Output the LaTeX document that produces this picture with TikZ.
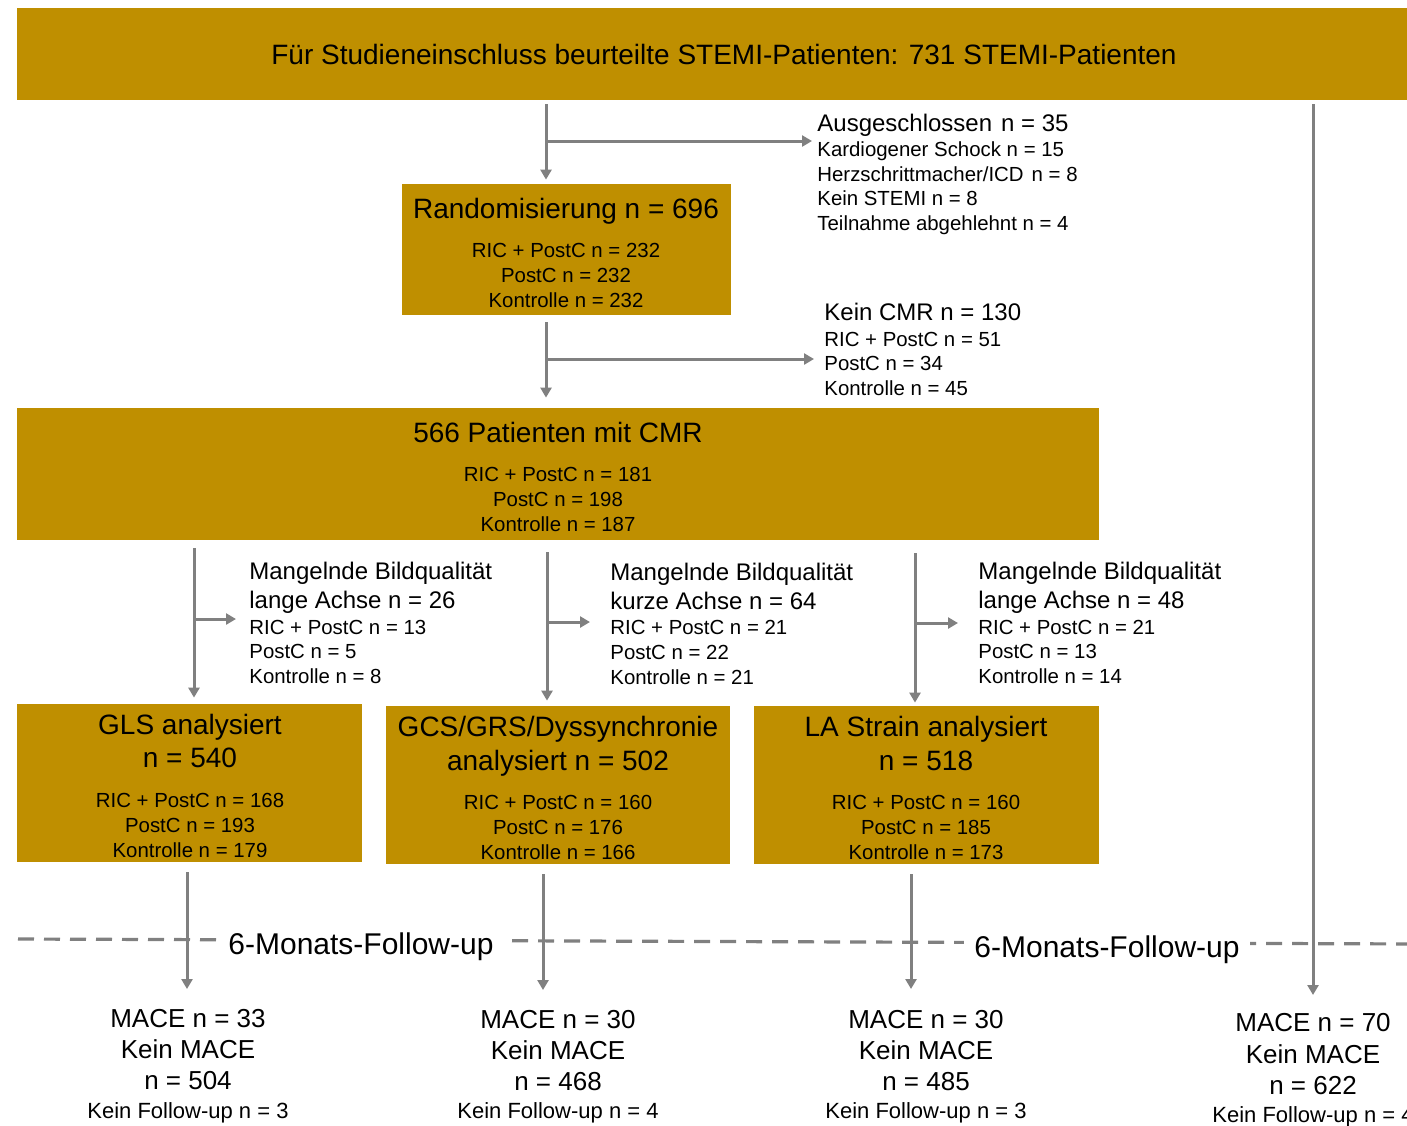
\documentclass[tikz,border=0pt]{standalone}
\usepackage{fontspec}
\setmainfont{Liberation Sans}
\usetikzlibrary{arrows.meta}
\definecolor{gold}{RGB}{191,143,0}
\definecolor{arrgray}{RGB}{128,128,128}
\begin{document}
\begin{tikzpicture}[x=0.5pt,y=-0.5pt,
  box/.style={fill=gold, draw=none, inner sep=0},
  arr/.style={draw=arrgray, line width=1.5pt, -{Triangle[length=5pt,width=5.5pt]}},
  fuline/.style={draw=arrgray, line width=1.6pt, dash pattern=on 8pt off 5pt},
  ct/.style={inner sep=0, anchor=base},
  lt/.style={inner sep=0, anchor=base west},
  big/.style={font=\fontsize{14}{16}\selectfont},
  med/.style={font=\fontsize{12}{14}\selectfont},
  sm/.style={font=\fontsize{10.2}{12}\selectfont},
  fu/.style={font=\fontsize{15}{17}\selectfont, fill=white, inner xsep=5pt, inner ysep=2pt},
  mace/.style={font=\fontsize{13}{15}\selectfont},
  kf/.style={font=\fontsize{11}{13}\selectfont}]
\useasboundingbox (0,0) rectangle (1407,1125);
\clip (0,0) rectangle (1407,1125);

% boxes
\node[box, minimum width=706.5pt, minimum height=46pt] (top) at (723.5,54) {};
\node[box, minimum width=164.5pt, minimum height=65.5pt] (rand) at (566.5,249.5) {};
\node[box, minimum width=541pt, minimum height=66pt] (cmr) at (558,474) {};
\node[box, minimum width=172.5pt, minimum height=79pt] (gls) at (189.5,783) {};
\node[box, minimum width=172pt, minimum height=79pt] (gcs) at (558,785) {};
\node[box, minimum width=172.5pt, minimum height=79pt] (la) at (926.5,785) {};

% box texts
\node[ct, big] (ttl) at (724,64) {Für Studieneinschluss beurteilte STEMI-Patienten: 731 STEMI-Patienten};

\node[ct, big] (r1) at (566,218) {Randomisierung n = 696};
\node[ct, sm] (r2) at (566,257) {RIC + PostC n = 232};
\node[ct, sm] (r3) at (566,282) {PostC n = 232};
\node[ct, sm] (r4) at (566,307) {Kontrolle n = 232};

\node[ct, big] (c1) at (558,442) {566 Patienten mit CMR};
\node[ct, sm] (c2) at (558,481) {RIC + PostC n = 181};
\node[ct, sm] (c3) at (558,506) {PostC n = 198};
\node[ct, sm] (c4) at (558,531) {Kontrolle n = 187};

\node[ct, big] (g1) at (190,734) {GLS analysiert};
\node[ct, big] (g2) at (190,767) {n = 540};
\node[ct, sm] (g3) at (190,807) {RIC + PostC n = 168};
\node[ct, sm] (g4) at (190,832) {PostC n = 193};
\node[ct, sm] (g5) at (190,857) {Kontrolle n = 179};

\node[ct, big] (s1) at (558,736) {GCS/GRS/Dyssynchronie};
\node[ct, big] (s2) at (558,770) {analysiert n = 502};
\node[ct, sm] (s3) at (558,809) {RIC + PostC n = 160};
\node[ct, sm] (s4) at (558,834) {PostC n = 176};
\node[ct, sm] (s5) at (558,859) {Kontrolle n = 166};

\node[ct, big] (l1) at (926,736) {LA Strain analysiert};
\node[ct, big] (l2) at (926,770) {n = 518};
\node[ct, sm] (l3) at (926,809) {RIC + PostC n = 160};
\node[ct, sm] (l4) at (926,834) {PostC n = 185};
\node[ct, sm] (l5) at (926,859) {Kontrolle n = 173};

% exclusion texts
\node[lt, med] (ex1) at (817,131) {Ausgeschlossen\hspace{4.5pt}n = 35};
\node[lt, sm] (ex1b) at (817,156) {Kardiogener Schock n = 15};
\node[lt, sm] (ex1c) at (817,181) {Herzschrittmacher/ICD\hspace{4pt}n = 8};
\node[lt, sm] (ex1d) at (817,205) {Kein STEMI n = 8};
\node[lt, sm] (ex1e) at (817,230) {Teilnahme abgehlehnt n = 4};

\node[lt, med] (ex2) at (824,320) {Kein CMR n = 130};
\node[lt, sm] (ex2b) at (824,346) {RIC + PostC n = 51};
\node[lt, sm] (ex2c) at (824,370) {PostC n = 34};
\node[lt, sm] (ex2d) at (824,395) {Kontrolle n = 45};

\node[lt, med] (ex3) at (249,579) {Mangelnde Bildqualität};
\node[lt, med] (ex3b) at (249,608) {lange Achse n = 26};
\node[lt, sm] (ex3c) at (249,634) {RIC + PostC n = 13};
\node[lt, sm] (ex3d) at (249,658) {PostC n = 5};
\node[lt, sm] (ex3e) at (249,683) {Kontrolle n = 8};

\node[lt, med] (ex4) at (610,580) {Mangelnde Bildqualität};
\node[lt, med] (ex4b) at (610,609) {kurze Achse n = 64};
\node[lt, sm] (ex4c) at (610,634) {RIC + PostC n = 21};
\node[lt, sm] (ex4d) at (610,659) {PostC n = 22};
\node[lt, sm] (ex4e) at (610,684) {Kontrolle n = 21};

\node[lt, med] (ex5) at (978,579) {Mangelnde Bildqualität};
\node[lt, med] (ex5b) at (978,608) {lange Achse n = 48};
\node[lt, sm] (ex5c) at (978,634) {RIC + PostC n = 21};
\node[lt, sm] (ex5d) at (978,658) {PostC n = 13};
\node[lt, sm] (ex5e) at (978,683) {Kontrolle n = 14};

% follow-up line
\coordinate (d0) at (18,939);
\coordinate (d1) at (1420,944);
\draw[fuline] (d0) -- (d1);
\node[fu] (fu1) at (361,947) {6-Monats-Follow-up};
\node[fu] (fu2) at (1107,950) {6-Monats-Follow-up};

% outcome texts
\node[ct, mace] (m1a) at (188,1027) {MACE n = 33};
\node[ct, mace] (m1b) at (188,1058) {Kein MACE};
\node[ct, mace] (m1c) at (188,1089) {n = 504};
\node[ct, kf] (m1d) at (188,1118) {Kein Follow-up n = 3};

\node[ct, mace] (m2a) at (558,1028) {MACE n = 30};
\node[ct, mace] (m2b) at (558,1059) {Kein MACE};
\node[ct, mace] (m2c) at (558,1090) {n = 468};
\node[ct, kf] (m2d) at (558,1118) {Kein Follow-up n = 4};

\node[ct, mace] (m3a) at (926,1028) {MACE n = 30};
\node[ct, mace] (m3b) at (926,1059) {Kein MACE};
\node[ct, mace] (m3c) at (926,1090) {n = 485};
\node[ct, kf] (m3d) at (926,1118) {Kein Follow-up n = 3};

\node[ct, mace] (m4a) at (1313,1031) {MACE n = 70};
\node[ct, mace] (m4b) at (1313,1063) {Kein MACE};
\node[ct, mace] (m4c) at (1313,1094) {n = 622};
\node[ct, kf] (m4d) at (1313,1122) {Kein Follow-up n = 4};

% connectors
\coordinate (v1) at (546,0);
\coordinate (v2) at (1313,0);
\coordinate (v4) at (194,0);
\coordinate (v5) at (547,0);
\coordinate (v6) at (915,0);
\coordinate (v7) at (187,0);
\coordinate (v8) at (543,0);
\coordinate (v9) at (911,0);

\draw[arr] ([yshift=-2pt]top.south -| v1) -- ([yshift=2pt]rand.north -| v1);
\coordinate (j1) at (546,141);
\draw[arr, shorten >=2.5pt] (j1) -- (j1 -| ex1.west);

\coordinate (e2) at (1313,995);
\draw[arr] ([yshift=-2pt]top.south -| v2) -- (e2);

\draw[arr] ([yshift=-3.5pt]rand.south -| v1) -- ([yshift=5pt]cmr.north -| v1);
\coordinate (j2) at (546,359);
\draw[arr, shorten >=5pt] (j2) -- (j2 -| ex2.west);

\draw[arr] ([yshift=-4pt]cmr.south -| v4) -- ([yshift=3pt]gls.north -| v4);
\coordinate (j4) at (194,619);
\draw[arr, shorten >=6.5pt] (j4) -- (j4 -| ex3.west);

\draw[arr] ([yshift=-6pt]cmr.south -| v5) -- ([yshift=2.5pt]gcs.north -| v5);
\coordinate (j5) at (547,622);
\draw[arr, shorten >=10pt] (j5) -- (j5 -| ex4.west);

\draw[arr] ([yshift=-6.5pt]cmr.south -| v6) -- ([yshift=1.5pt]la.north -| v6);
\coordinate (j6) at (915,623);
\draw[arr, shorten >=10pt] (j6) -- (j6 -| ex5.west);

\coordinate (e7) at (187,989);
\coordinate (e8) at (543,990);
\coordinate (e9) at (911,989);
\draw[arr] ([yshift=-5pt]gls.south -| v7) -- (e7);
\draw[arr] ([yshift=-5pt]gcs.south -| v8) -- (e8);
\draw[arr] ([yshift=-5pt]la.south -| v9) -- (e9);
\end{tikzpicture}
\end{document}
